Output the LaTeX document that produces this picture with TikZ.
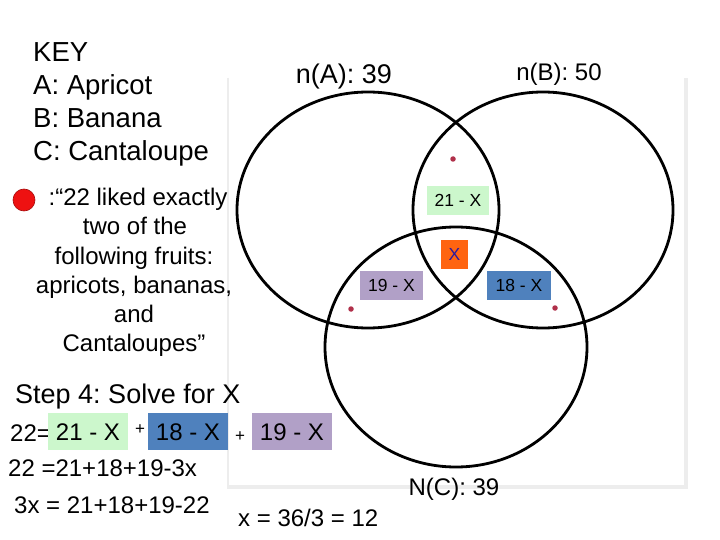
\documentclass[tikz,border=0pt]{standalone}
\usepackage{fontspec}
\setmainfont{Liberation Sans}
\frenchspacing
\definecolor{framegray}{HTML}{EDEDED}
\definecolor{boxgreen}{HTML}{CCF7CC}
\definecolor{boxblue}{HTML}{4F81BD}
\definecolor{boxpurple}{HTML}{B1A0C7}
\definecolor{boxorange}{HTML}{FF6410}
\definecolor{xblue}{HTML}{2A1A9E}
\definecolor{dotred}{HTML}{B0304A}
\definecolor{keyred}{HTML}{EE1111}
\newcommand{\fs}[1]{\fontsize{#1pt}{#1pt}\selectfont}
\begin{document}
\begin{tikzpicture}[x=1pt,y=-1pt,
  txt/.style={inner sep=0pt,anchor=base west},
  ctxt/.style={inner sep=0pt,anchor=base},
  venn/.style={draw=black,line width=2.8pt},
  smallbox/.style={inner sep=0pt,minimum height=29pt,text height=12.5pt,text depth=0pt,font=\fs{17.5}},
  bigbox/.style={inner sep=0pt,minimum width=80pt,minimum height=37pt,text height=17.2pt,text depth=0pt,font=\fs{24}},
  region/.style={circle,fill=dotred,inner sep=0pt,minimum size=5.5pt}]
\useasboundingbox[fill=white] (0,0) rectangle (720,540);
% frame
\draw[framegray,line width=2.5pt] (228,78) -- (228,487);
\draw[framegray,line width=4pt] (227,487) -- (686,487) -- (686,78);
% circles
\draw[venn] (368,210) ellipse [x radius=131, y radius=118];
\draw[venn] (543,210) ellipse [x radius=130, y radius=118];
\draw[venn] (456,347) ellipse [x radius=131, y radius=120];
% key
\node[txt,font=\fs{27.5}] (key) at (33,62) {KEY};
\node[txt,font=\fs{27.5}] (ka) at (33,95) {A: Apricot};
\node[txt,font=\fs{27.5}] (kb) at (33,128) {B: Banana};
\node[txt,font=\fs{27.5}] (kc) at (33,161) {C: Cantaloupe};
\node[circle,fill=keyred,draw=keyred!70!black,line width=0.6pt,inner sep=0pt,minimum size=22pt] (kdot) at (24,200) {};
\node[ctxt,font=\fs{24}] (q1) at (138,206) {:“22 liked exactly};
\node[ctxt,font=\fs{24}] (q2) at (135,235) {two of the};
\node[ctxt,font=\fs{24}] (q3) at (134,264) {following fruits:};
\node[ctxt,font=\fs{24}] (q4) at (134,293) {apricots, bananas,};
\node[ctxt,font=\fs{24}] (q5) at (134,322) {and};
\node[ctxt,font=\fs{24}] (q6) at (134,351) {Cantaloupes”};
% set labels
\node[ctxt,font=\fs{27}] (na) at (344,84) {n(A): 39};
\node[ctxt,font=\fs{24}] (nb) at (559,81) {n(B): 50};
\node[ctxt,font=\fs{24}] (nc) at (454,495) {N(C): 39};
% region boxes
\node[smallbox,fill=boxgreen,minimum width=62pt] (ab) at (458,200.5) {21 - X};
\node[smallbox,fill=boxorange,minimum width=27pt,text=xblue] (abc) at (454.5,254.5) {X};
\node[smallbox,fill=boxpurple,minimum width=63pt] (ac) at (391.5,285) {19 - X};
\node[smallbox,fill=boxblue,minimum width=64pt] (bc) at (519,285) {18 - X};
% dots
\node[region] (d1) at (453,159) {};
\node[region] (d2) at (351,309) {};
\node[region] (d3) at (555,308) {};
% solution
\node[txt,font=\fs{27}] (step) at (15,403) {Step 4: Solve for X};
\node[txt,font=\fs{24}] (e0) at (10,441) {22=};
\node[bigbox,fill=boxgreen] (e1) at (88,431.5) {21 - X};
\node[ctxt,font=\fs{17}] (p1) at (140,434) {+};
\node[bigbox,fill=boxblue] (e2) at (188,431.5) {18 - X};
\node[ctxt,font=\fs{17}] (p2) at (240,441) {+};
\node[bigbox,fill=boxpurple] (e3) at (292,431.5) {19 - X};
\node[txt,font=\fs{24}] (l2) at (8,476) {22 =21+18+19-3x};
\node[txt,font=\fs{24}] (l3) at (14,513) {3x = 21+18+19-22};
\node[txt,font=\fs{24}] (l4) at (238,526) {x = 36/3 = 12};
\end{tikzpicture}
\end{document}
